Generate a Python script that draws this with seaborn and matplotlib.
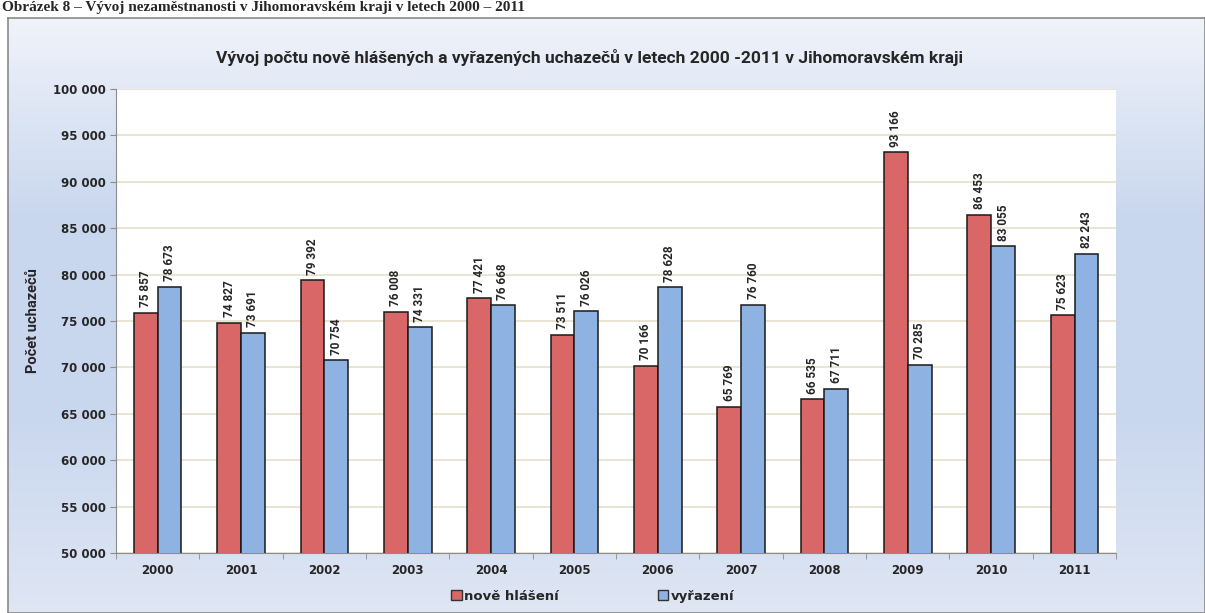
import numpy as np
import pandas as pd
import matplotlib.pyplot as plt
import seaborn as sns
from matplotlib.colors import LinearSegmentedColormap

years = ['2000', '2001', '2002', '2003', '2004', '2005', '2006', '2007', '2008', '2009', '2010', '2011']
nove_hlaseni = [75857, 74827, 79392, 76008, 77421, 73511, 70166, 65769, 66535, 93166, 86453, 75623]
vyrazeni = [78673, 73691, 70754, 74331, 76668, 76026, 78628, 76760, 67711, 70285, 83055, 82243]
series = ['nově hlášení', 'vyřazení']
colors = ['#d96767', '#8eb3e2']

df = pd.DataFrame({'Rok': years * 2,
                   'Počet': nove_hlaseni + vyrazeni,
                   'Řada': [series[0]] * 12 + [series[1]] * 12})

sns.set_style('white')
narrow = ['Roboto', 'DejaVu Sans']

fig = plt.figure(figsize=(12.05, 6.13), dpi=100)

# gradient background of the chart frame
bg = fig.add_axes([0.0066, 0, 0.9934, 0.97], zorder=-5)
cmap = LinearSegmentedColormap.from_list('bg', ['#f0f3fa', '#c9d7ee', '#c9d7ee', '#dfe6f4'])
bg.imshow(np.linspace(0, 1, 256).reshape(-1, 1), aspect='auto', cmap=cmap, extent=[0, 1, 0, 1])
bg.set_xticks([])
bg.set_yticks([])
for s in bg.spines.values():
    s.set_color('#8a8a8a')
    s.set_linewidth(1.2)

# caption of the page above the chart
fig.text(0.002, 0.999, 'Obrázek 8 – Vývoj nezaměstnanosti v Jihomoravském kraji v letech 2000 – 2011',
         fontsize=11, fontweight='bold', family='Liberation Serif', va='top', ha='left')

ax = fig.add_axes([0.0963, 0.098, 0.830, 0.757])
sns.barplot(data=df, x='Rok', y='Počet', hue='Řada', palette=colors, width=0.57, gap=0,
            edgecolor='#1a1a1a', linewidth=1.1, saturation=1, ax=ax, legend=False, zorder=3)
ax.set_facecolor('white')
ax.set_ylim(50000, 100000)
ax.set_xlim(-0.5, 11.5)
ax.set_yticks(range(50000, 100001, 5000))
ax.set_yticklabels([f'{v:,}'.replace(',', ' ') for v in range(50000, 100001, 5000)],
                   fontsize=8.5, fontweight='bold')
ax.set_xticks(range(12))
ax.set_xticklabels(years, fontsize=8.5, fontweight='bold')
ax.set_xlabel('')
ax.set_ylabel('Počet uchazečů', fontsize=10.5, fontweight='bold', family=narrow, labelpad=9)
ax.grid(axis='y', color='#e6dfca', linewidth=1.2, zorder=0)
ax.set_axisbelow(True)
for s in ['top', 'right']:
    ax.spines[s].set_visible(False)
for s in ['left', 'bottom']:
    ax.spines[s].set_color('#8c8c8c')
ax.tick_params(axis='y', length=4, color='#8c8c8c', left=True)
ax.tick_params(axis='x', length=0, pad=8)
# minor ticks between categories on x axis
ax.set_xticks(np.arange(-0.5, 12, 1), minor=True)
ax.tick_params(axis='x', which='minor', length=4, color='#8c8c8c', bottom=True)

for cont in ax.containers:
    labels = [f'{int(v):,}'.replace(',', ' ') for v in cont.datavalues]
    ax.bar_label(cont, labels=labels, rotation=90, padding=4, fontsize=8.5,
                 fontweight='bold', family=narrow)

fig.text(0.489, 0.906,
         'Vývoj počtu nově hlášených a vyřazených uchazečů v letech 2000 -2011 v Jihomoravském kraji',
         fontsize=12.5, fontweight='bold', family=narrow, ha='center', va='center')

# legend
handles = [plt.Rectangle((0, 0), 1, 1, facecolor=c, edgecolor='#333333') for c in colors]
fig.legend(handles, series, loc='center', bbox_to_anchor=(0.492, 0.027), ncol=2, frameon=False,
           prop={'size': 9.5, 'weight': 'bold'}, handlelength=0.8, handleheight=0.8,
           handletextpad=0.2, columnspacing=7.5)

plt.savefig('out.png', dpi=100)
